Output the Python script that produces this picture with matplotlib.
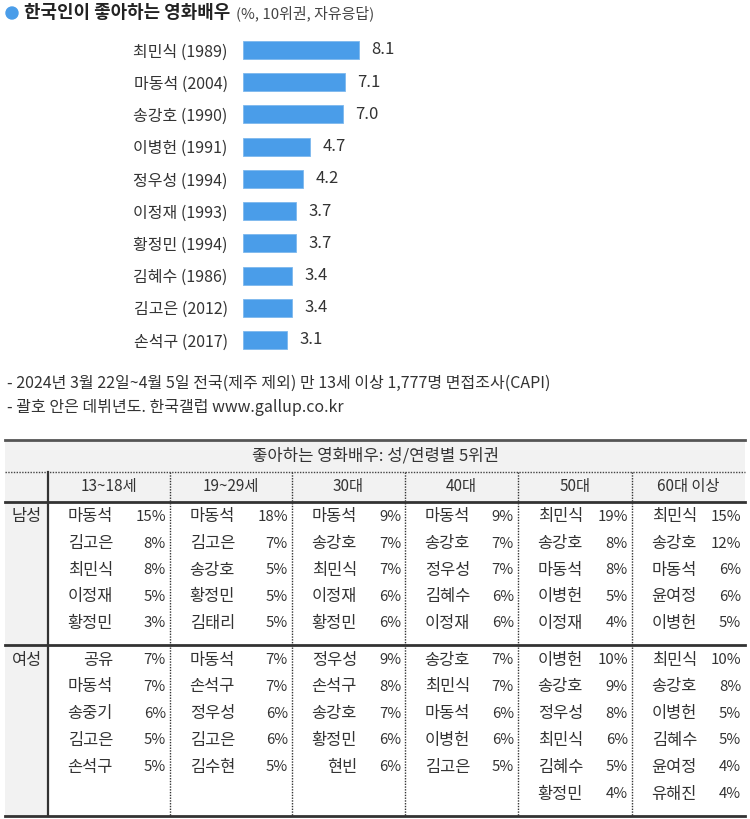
import matplotlib
matplotlib.use("Agg")
import matplotlib.pyplot as plt
from matplotlib.patches import Circle, Rectangle

plt.rcParams['font.family'] = ['Noto Sans CJK KR', 'DejaVu Sans']

# ---------------- data ----------------
actor_names = ['최민식', '마동석', '송강호', '이병헌', '정우성', '이정재', '황정민', '김혜수', '김고은', '손석구']
debut_years = ['1989', '2004', '1990', '1991', '1994', '1993', '1994', '1986', '2012', '2017']
values = [8.1, 7.1, 7.0, 4.7, 4.2, 3.7, 3.7, 3.4, 3.4, 3.1]

title = '한국인이 좋아하는 영화배우'
subtitle = '(%, 10위권, 자유응답)'
footnotes = ['- 2024년 3월 22일~4월 5일 전국(제주 제외) 만 13세 이상 1,777명 면접조사(CAPI)',
             '- 괄호 안은 데뷔년도. 한국갤럽 www.gallup.co.kr']

table_title = '좋아하는 영화배우: 성/연령별 5위권'
age_groups = ['13~18세', '19~29세', '30대', '40대', '50대', '60대 이상']
sex_labels = ['남성', '여성']

male_names = [['마동석', '김고은', '최민식', '이정재', '황정민'],
              ['마동석', '김고은', '송강호', '황정민', '김태리'],
              ['마동석', '송강호', '최민식', '이정재', '황정민'],
              ['마동석', '송강호', '정우성', '김혜수', '이정재'],
              ['최민식', '송강호', '마동석', '이병헌', '이정재'],
              ['최민식', '송강호', '마동석', '윤여정', '이병헌']]
male_pcts = [[15, 8, 8, 5, 3],
             [18, 7, 5, 5, 5],
             [9, 7, 7, 6, 6],
             [9, 7, 7, 6, 6],
             [19, 8, 8, 5, 4],
             [15, 12, 6, 6, 5]]
female_names = [['공유', '마동석', '송중기', '김고은', '손석구'],
                ['마동석', '손석구', '정우성', '김고은', '김수현'],
                ['정우성', '손석구', '송강호', '황정민', '현빈'],
                ['송강호', '최민식', '마동석', '이병헌', '김고은'],
                ['이병헌', '송강호', '정우성', '최민식', '김혜수', '황정민'],
                ['최민식', '송강호', '이병헌', '김혜수', '윤여정', '유해진']]
female_pcts = [[7, 7, 6, 5, 5],
               [7, 7, 6, 6, 5],
               [9, 8, 7, 6, 6],
               [7, 7, 6, 6, 5],
               [10, 9, 8, 6, 5, 4],
               [10, 8, 5, 5, 4, 4]]

# ---------------- style ----------------
BLUE = '#4a9de9'
TXT = '#333333'
GRAY_BG = '#f2f2f2'
W, H = 750, 819

fig = plt.figure(figsize=(7.5, 8.19), dpi=100)
fig.patch.set_facecolor('white')

# overlay axes in pixel coordinates
ov = fig.add_axes([0, 0, 1, 1])
ov.set_xlim(0, W)
ov.set_ylim(H, 0)
ov.axis('off')

# ---------------- bar chart ----------------
top_c, bot_c = 50, 340
step = (bot_c - top_c) / (len(values) - 1)
ax_top, ax_bot = top_c - step / 2, bot_c + step / 2
x0, px_per_unit = 243, 14.3
xmax = 10
bx = fig.add_axes([x0 / W, 1 - ax_bot / H, xmax * px_per_unit / W, (ax_bot - ax_top) / H])
ypos = list(range(len(values)))
bx.barh(ypos, values, height=18 / step, color=BLUE, edgecolor='#7db8ee', linewidth=0.6)
bx.set_xlim(0, xmax)
bx.set_ylim(len(values) - 0.5, -0.5)
bx.set_yticks(ypos)
bx.set_yticklabels([f'{n} ({y})' for n, y in zip(actor_names, debut_years)],
                   fontsize=11.5, color=TXT)
bx.tick_params(axis='y', length=0, pad=11)
bx.set_xticks([])
for s in bx.spines.values():
    s.set_visible(False)
bx.patch.set_alpha(0)
for yv, v in zip(ypos, values):
    bx.annotate(f'{v:.1f}', xy=(v, yv), xytext=(9, 0), textcoords='offset points',
                va='center', ha='left', fontsize=12, color=TXT)

# ---------------- title ----------------
ov.add_patch(Circle((12, 13), 6, color=BLUE))
t = ov.text(24, 13, title, fontsize=12.9, fontweight='bold', color='#222222',
            va='center', ha='left')
ov.annotate(subtitle, xy=(1, 0.5), xycoords=t, xytext=(4, 0), textcoords='offset points',
            fontsize=10.8, color='#444444', va='center', ha='left')

# ---------------- footnotes ----------------
for i, fn in enumerate(footnotes):
    ov.text(7, 383 + i * 24, fn, fontsize=11.5, color=TXT, va='center', ha='left')

# ---------------- table ----------------
L, R = 5, 745
col_edges = [48, 170, 292, 405, 518, 632, 745]
t_top, t_mid_dot, t_head_bot, t_sex_sep, t_bot = 440, 472, 502, 645, 816

ov.add_patch(Rectangle((L, t_top), R - L, t_head_bot - t_top, color=GRAY_BG, lw=0, zorder=0))
ov.add_patch(Rectangle((L, t_head_bot), col_edges[0] - L, t_bot - t_head_bot, color=GRAY_BG, lw=0, zorder=0))

ov.plot([L, R], [t_top, t_top], color='#555555', lw=2)
ov.plot([L, R], [t_mid_dot, t_mid_dot], color='#444444', lw=1, ls=(0, (1, 1)))
for yy in (t_head_bot, t_sex_sep, t_bot):
    ov.plot([L, R], [yy, yy], color='#333333', lw=2)
ov.plot([col_edges[0], col_edges[0]], [t_mid_dot, t_bot], color='#333333', lw=1.6)
for xe in col_edges[1:-1]:
    ov.plot([xe, xe], [t_mid_dot, t_bot], color='#333333', lw=1, ls=(0, (1, 1)))

FS_K = 11.8   # Korean-heavy text
FS_N = 10.8   # numbers
ov.text((L + R) / 2, 456, table_title, fontsize=12, color=TXT, ha='center', va='center')
for i, ag in enumerate(age_groups):
    ov.text((col_edges[i] + col_edges[i + 1]) / 2, 487, ag, fontsize=11, color=TXT,
            ha='center', va='center')

sections = [(male_names, male_pcts, 517, 26.6), (female_names, female_pcts, 660, 26.8)]
for si, (names, pcts, y_start, dy) in enumerate(sections):
    ov.text(27, y_start, sex_labels[si], fontsize=FS_K, color=TXT, ha='center', va='center')
    for c in range(len(age_groups)):
        cl, cr = col_edges[c], col_edges[c + 1]
        for r, (nm, pc) in enumerate(zip(names[c], pcts[c])):
            yy = y_start + r * dy
            ov.text(cl + 65, yy, nm, fontsize=FS_K, color=TXT, ha='right', va='center')
            ov.text(cr - 4, yy, f'{pc}%', fontsize=FS_N, color=TXT, ha='right', va='center')

fig.savefig('out.png', dpi=100)
